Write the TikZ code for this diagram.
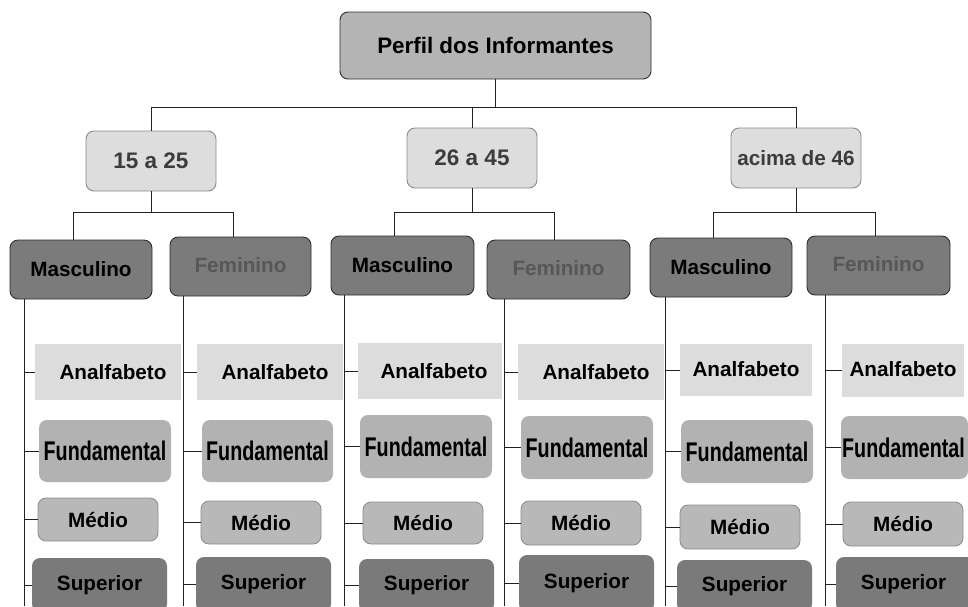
\documentclass[tikz,border=0pt]{standalone}
\usepackage{fontspec}
\setmainfont{Liberation Sans}
\newfontfamily\narrowfont[FakeStretch=0.73]{Liberation Sans}
\definecolor{linec}{HTML}{222222}
\definecolor{topfill}{HTML}{B4B4B4}
\definecolor{agefill}{HTML}{DDDDDD}
\definecolor{ageline}{HTML}{8A8A8A}
\definecolor{agetext}{HTML}{3C3C3C}
\definecolor{genfill}{HTML}{7B7B7B}
\definecolor{genline}{HTML}{2E2E2E}
\definecolor{femtext}{HTML}{575757}
\definecolor{anafill}{HTML}{DCDCDC}
\definecolor{fundfill}{HTML}{B2B2B2}
\definecolor{medfill}{HTML}{B8B8B8}
\definecolor{medline}{HTML}{8A8A8A}
\definecolor{supfill}{HTML}{7A7A7A}
\newcommand\bx[7]{\node[#2, minimum width={(#5-#3)*1pt}, minimum height={(#6-#4)*1pt}] (#1) at ({(#3+#5)/2},{(#4+#6)/2}) {#7};}
\tikzset{
  base/.style={inner sep=0pt, font=\bfseries\fontsize{20.7}{24}\selectfont},
  topbox/.style={base, rounded corners=8pt, fill=topfill, draw=genline, line width=0.9pt, font=\bfseries\fontsize{22.4}{26}\selectfont},
  agebox/.style={base, rounded corners=8pt, fill=agefill, draw=ageline, line width=0.9pt, text=agetext},
  mascbox/.style={base, rounded corners=8pt, fill=genfill, draw=genline, line width=0.9pt, text=black},
  fembox/.style={base, rounded corners=8pt, fill=genfill, draw=genline, line width=0.9pt, text=femtext},
  anabox/.style={base, fill=anafill},
  fundbox/.style={base, rounded corners=8pt, fill=fundfill, font=\narrowfont\bfseries\fontsize{27}{30}\selectfont},
  medbox/.style={base, rounded corners=8pt, fill=medfill, draw=medline, line width=0.8pt},
  supbox/.style={base, rounded corners=8pt, fill=supfill},
  conn/.style={draw=linec, line width=0.9pt}
}
\begin{document}
\begin{tikzpicture}[x=1pt,y=-1pt]
\useasboundingbox (0,0) rectangle (968,606);
\clip (0,0) rectangle (968,606);
% top and age groups
\bx{top}{topbox}{340}{12}{651}{79}{Perfil dos Informantes}
\bx{a1}{agebox,font=\bfseries\fontsize{22.5}{26}\selectfont}{86}{131}{216}{191}{15 a 25}
\bx{a2}{agebox,font=\bfseries\fontsize{22.5}{26}\selectfont}{407}{128}{537}{188}{26 a 45}
\bx{a3}{agebox}{731}{128}{861}{188}{acima de 46}
% gender
\bx{m1}{mascbox}{10}{240}{152}{299}{Masculino}
\bx{f1}{fembox}{170}{237}{311}{296}{\raisebox{3pt}{Feminino}}
\bx{m2}{mascbox}{331}{236}{474}{295}{Masculino}
\bx{f2}{fembox}{487}{240}{630}{299}{\raisebox{3pt}{Feminino}}
\bx{m3}{mascbox}{650}{238}{792}{297}{Masculino}
\bx{f3}{fembox}{807}{236}{950}{295}{\raisebox{3pt}{Feminino}}
% leaves column 1
\bx{l1a}{anabox}{35}{344}{181}{400}{\hspace*{10pt}Analfabeto}
\bx{l1f}{fundbox}{39}{420}{171}{482}{Fundamental}
\bx{l1m}{medbox}{38}{498}{158}{541}{Médio}
\bx{l1s}{supbox}{32}{558}{167}{612}{\raisebox{4pt}{Superior}}
% column 2
\bx{l2a}{anabox}{197}{344}{343}{400}{\hspace*{10pt}Analfabeto}
\bx{l2f}{fundbox}{202}{420}{333}{482}{Fundamental}
\bx{l2m}{medbox}{201}{501}{321}{544}{Médio}
\bx{l2s}{supbox}{196}{557}{331}{612}{\raisebox{4pt}{Superior}}
% column 3
\bx{l3a}{anabox}{358}{343}{502}{399}{\hspace*{8pt}Analfabeto}
\bx{l3f}{fundbox}{360}{415}{492}{478}{Fundamental}
\bx{l3m}{medbox}{363}{502}{483}{544}{Médio}
\bx{l3s}{supbox}{359}{559}{494}{612}{\raisebox{2pt}{Superior}}
% column 4
\bx{l4a}{anabox}{518}{344}{664}{400}{\hspace*{10pt}Analfabeto}
\bx{l4f}{fundbox}{521}{416}{653}{479}{Fundamental}
\bx{l4m}{medbox}{521}{501}{641}{545}{Médio}
\bx{l4s}{supbox}{519}{555}{654}{612}{\raisebox{6pt}{Superior}}
% column 5
\bx{l5a}{anabox}{680}{344}{812}{396}{\raisebox{3pt}{Analfabeto}}
\bx{l5f}{fundbox}{681}{420}{813}{483}{Fundamental}
\bx{l5m}{medbox}{680}{505}{800}{549}{Médio}
\bx{l5s}{supbox}{677}{560}{812}{612}{\raisebox{2pt}{Superior}}
% column 6
\bx{l6a}{anabox}{842}{344}{964}{397}{\raisebox{3pt}{Analfabeto}}
\bx{l6f}{fundbox}{841}{416}{968}{479}{Fundamental\hspace*{2pt}}
\bx{l6m}{medbox}{843}{502}{963}{546}{Médio}
\bx{l6s}{supbox}{836}{557}{975}{612}{\raisebox{6pt}{Superior}\hspace*{4pt}}
% connectors level 1
\coordinate (bus0) at (0,107);
\draw[conn] (top.south) -- (top.south |- bus0);
\draw[conn] (a1.north) -- (a1.north |- bus0) -- (a3.north |- bus0) -- (a3.north);
\draw[conn] (a2.north |- bus0) -- (a2.north);
% connectors level 2
\coordinate (b1l) at (73,212); \coordinate (b1r) at (233,212);
\coordinate (b2l) at (394,212); \coordinate (b2r) at (554,212);
\coordinate (b3l) at (713,212); \coordinate (b3r) at (875,212);
\draw[conn] (a1.south) -- (a1.south |- b1l);
\draw[conn] (b1l |- m1.north) -- (b1l) -- (b1r) -- (b1r |- f1.north);
\draw[conn] (a2.south) -- (a2.south |- b2l);
\draw[conn] (b2l |- m2.north) -- (b2l) -- (b2r) -- (b2r |- f2.north);
\draw[conn] (a3.south) -- (a3.south |- b3l);
\draw[conn] (b3l |- m3.north) -- (b3l) -- (b3r) -- (b3r |- f3.north);
% spines
\coordinate (bot) at (0,606);
\coordinate (s1) at ([xshift=15pt]m1.south west);
\coordinate (s2) at ([xshift=14pt]f1.south west);
\coordinate (s3) at ([xshift=14pt]m2.south west);
\coordinate (s4) at ([xshift=18pt]f2.south west);
\coordinate (s5) at ([xshift=16pt]m3.south west);
\coordinate (s6) at ([xshift=19pt]f3.south west);
\foreach \i in {1,...,6}{
  \draw[conn] (s\i) -- (s\i |- bot);
  \foreach \k in {a,f,m,s}{
    \draw[conn] (s\i |- l\i\k.west) -- (l\i\k.west);
  }
}
\end{tikzpicture}
\end{document}
